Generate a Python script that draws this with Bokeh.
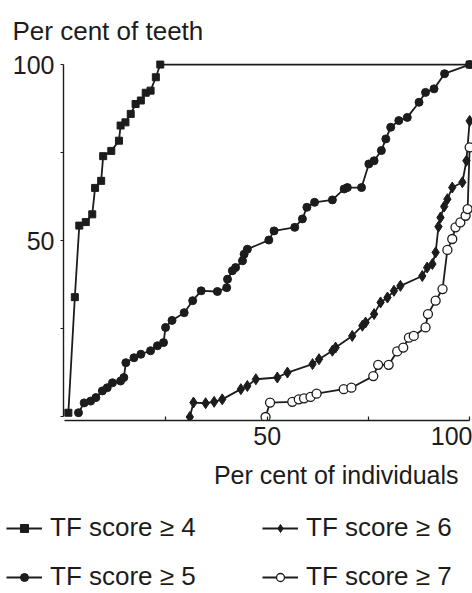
from bokeh.plotting import figure
from bokeh.layouts import column
from bokeh.models import Range1d, FixedTicker, Legend, LegendItem, Title
from bokeh.embed import file_html
from bokeh.resources import INLINE

# ---- data (per cent of individuals, per cent of teeth)
x_tf4 = [0.9, 2.5, 3.6, 5.2, 6.8, 7.5, 9.0, 9.5, 11.5, 13.4, 13.8, 15.0, 16.3, 17.5,
         18.8, 20.0, 21.2, 22.5, 23.6, 100]
y_tf4 = [1.2, 34, 54.3, 55.3, 57.5, 65, 67, 74, 75.5, 78.4, 82.7, 83.6, 86, 88.8,
         89.8, 92, 92.6, 96.4, 100, 100]

x_tf5 = [3.4, 4.8, 6.4, 7.7, 9.3, 10.5, 11.8, 13.8, 14.6, 15.1, 17.1, 18.8, 21.2, 22.9,
         24.4, 24.9, 26.5, 29.5, 31.6, 33.7, 37.7, 40.0, 40.2, 41.4, 42.2, 43.9, 44.3,
         45.1, 50.4, 51.7, 56.8, 58.7, 59.8, 61.7, 66.1, 69.0, 69.8, 73.3, 75.1, 76.4,
         78.2, 79.3, 80.5, 82.5, 84.6, 87.5, 89.1, 91.2, 93.8, 100]
y_tf5 = [1.2, 4.0, 4.5, 5.5, 7.4, 8.3, 9.7, 10.2, 11.2, 15.4, 16.8, 17.8, 18.8, 20.2,
         21.1, 25.4, 27.4, 29.6, 33.0, 35.8, 35.6, 36.7, 39.1, 41.5, 42.4, 44.3, 46.2,
         47.6, 50.2, 52.8, 53.8, 56.2, 59.5, 60.9, 61.6, 64.7, 65.1, 65.1, 71.8, 72.7,
         75.6, 78.9, 82.2, 84.1, 85.0, 89.3, 92.1, 93.1, 97.4, 100]

x_tf6 = [30.9, 31.8, 34.8, 36.9, 38.9, 43.5, 45.1, 47.2, 52.5, 55.0, 61.2, 62.8, 66.1,
         66.9, 71.0, 73.5, 74.3, 76.4, 78.0, 79.7, 81.3, 82.9, 88.3, 89.5, 90.8, 91.6,
         92.3, 92.8, 93.7, 94.5, 95.7, 98.2, 99.2, 100]
y_tf6 = [0, 4.1, 3.9, 4.3, 5.0, 7.9, 8.8, 10.7, 11.2, 12.6, 15.0, 16.4, 18.8,
         19.7, 23.0, 25.9, 26.8, 29.2, 32.5, 33.9, 35.8, 37.2, 40.0, 42.4, 43.4, 46.7,
         54.0, 56.6, 59.7, 61.8, 65.1, 66.6, 72.7, 84.0]

x_tf7 = [49.6, 50.7, 56.2, 57.8, 59.1, 60.7, 62.2, 68.9, 70.8, 76.2, 77.4, 80.0, 82.1,
         83.6, 85.0, 86.2, 89.1, 89.7, 91.6, 93.3, 94.5, 95.7, 96.5, 97.7, 99.0, 99.5, 100]
y_tf7 = [0, 4.1, 4.3, 5.0, 5.3, 5.7, 6.6, 7.9, 8.3, 11.6, 14.8, 14.8, 18.6,
         19.7, 22.5, 23.0, 25.4, 29.2, 33.0, 36.3, 47.4, 50.5, 53.8, 55.2, 57.1, 59.0, 76.5]

series_labels = ["TF score \u2265 4", "TF score \u2265 5", "TF score \u2265 6", "TF score \u2265 7"]

x_ticks = [25, 50, 75, 100]
x_tick_labels = {25: "", 50: "50", 75: "", 100: "100"}
y_ticks = [0, 25, 50, 75, 100]
y_tick_labels = {0: "", 25: "", 50: "50", 75: "", 100: "100"}

FONT = "Liberation Sans"
INK = "#1c1c1c"

# series styles (shared by chart and legend)
line_style = dict(line_color=INK, line_width=1.8)
marker_styles = [
    dict(marker="square", size=7, fill_color=INK, line_color=INK),
    dict(marker="circle", size=8, fill_color=INK, line_color=INK),
    dict(marker="diamond", size=11, fill_color=INK, line_color=INK),
    dict(marker="circle", size=9, fill_color="white", line_color=INK, line_width=1.3),
]
series = [(x_tf4, y_tf4), (x_tf5, y_tf5), (x_tf6, y_tf6), (x_tf7, y_tf7)]

p = figure(frame_width=409, frame_height=363, output_backend="svg", toolbar_location=None,
           x_range=Range1d(-0.3, 100.7), y_range=Range1d(-1.0, 102),
           min_border_left=63, min_border_right=0, min_border_top=57, min_border_bottom=88)
p.grid.visible = False
p.outline_line_color = None

# axes
for ax in (p.xaxis[0], p.yaxis[0]):
    ax.bounds = (0, 100)
    ax.axis_line_color = INK
    ax.axis_line_width = 1.4
    ax.major_tick_line_color = INK
    ax.major_tick_line_width = 1.2
    ax.minor_tick_line_color = None
    ax.major_label_text_font = FONT
    ax.major_label_text_font_size = "25px"
    ax.major_label_text_color = INK

xa = p.xaxis[0]
xa.ticker = FixedTicker(ticks=x_ticks)
xa.major_label_overrides = x_tick_labels
xa.major_tick_in = 4
xa.major_tick_out = 0
xa.major_label_standoff = 6
xa.major_label_text_align = "right"

ya = p.yaxis[0]
ya.ticker = FixedTicker(ticks=y_ticks)
ya.major_label_overrides = y_tick_labels
ya.major_tick_in = 0
ya.major_tick_out = 3
ya.major_label_standoff = 6

# titles
p.title.text = "Per cent of teeth"
p.title.align = "left"
p.title.offset = -51
p.title.standoff = 24
p.title.text_font = FONT
p.title.text_font_size = "26px"
p.title.text_font_style = "normal"
p.title.text_color = INK

xt = Title(text="Per cent of individuals", align="right", text_font=FONT,
           text_font_size="25px", text_font_style="normal", text_color=INK,
           offset=14, standoff=22)
p.add_layout(xt, "below")

for (xs, ys), ms in zip(series, marker_styles):
    p.line(xs, ys, **line_style)
    p.scatter(xs, ys, **ms)

# legend strip under the chart: its renderers share the series but its ranges show none of them
lg = figure(width=472, height=85, output_backend="svg", toolbar_location=None,
            x_axis_location=None, y_axis_location=None,
            x_range=Range1d(-300, -200), y_range=Range1d(-300, -200),
            min_border=0, min_border_left=0, min_border_right=0,
            min_border_top=0, min_border_bottom=0)
lg.grid.visible = False
lg.outline_line_color = None

legend_x = -58
if "frame_align" in lg.properties():
    lg.frame_align = False
    p.frame_align = False
    legend_x = 6

items = []
for label, (xs, ys), ms in zip(series_labels, series, marker_styles):
    lr = lg.line(xs, ys, **line_style)
    sr = lg.scatter(xs, ys, **ms)
    items.append(LegendItem(label=label, renderers=[lr, sr]))

legend_style = dict(orientation="horizontal",
                    glyph_width=36, glyph_height=20, label_standoff=8,
                    label_text_font=FONT, label_text_font_size="26px", label_text_color=INK,
                    label_width=194, spacing=18, padding=0, margin=0,
                    border_line_color=None, background_fill_alpha=0)
leg_row1 = Legend(items=[items[0], items[2]], location=(legend_x, 50), **legend_style)
leg_row2 = Legend(items=[items[1], items[3]], location=(legend_x, 1), **legend_style)
lg.add_layout(leg_row1, "center")
lg.add_layout(leg_row2, "center")

layout = column(p, lg, spacing=0)
open("out.html", "w").write(file_html(layout, INLINE))
